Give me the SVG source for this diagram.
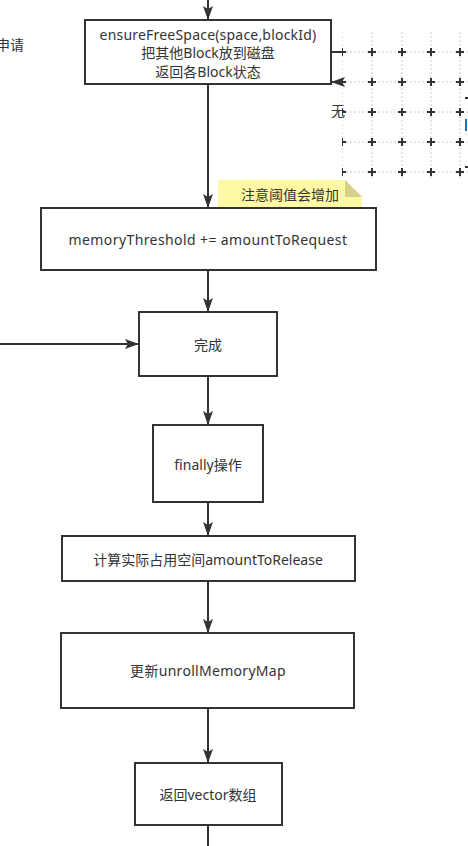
<svg xmlns="http://www.w3.org/2000/svg" width="468" height="846" viewBox="0 0 468 846">
<style>
.box{fill:#fff;stroke:#333;stroke-width:2}
.t{font-family:"Noto Sans","Noto Sans CJK SC",sans-serif;font-size:14px;fill:#333;text-anchor:middle;dominant-baseline:central}
.edge{fill:none;stroke:#333;stroke-width:2}
.grid{stroke:#ccc;stroke-width:1;stroke-dasharray:2 2}
.cross{stroke:#333;stroke-width:2}
</style>
<defs>
<marker id="ah" markerWidth="14" markerHeight="10" refX="13" refY="5" orient="auto" markerUnits="userSpaceOnUse">
<path d="M0,0 L14,5 L0,10 L3,5 z" fill="#333"/>
</marker>
<clipPath id="gc"><rect x="342" y="30" width="126" height="148"/></clipPath>
</defs>
<rect width="468" height="846" fill="#fff"/>
<text class="t" x="24" y="44" style="text-anchor:end">申请</text>
<text class="t" x="338" y="110">无</text>
<g id="connectors">
<line class="edge" x1="208" y1="0" x2="208" y2="19" marker-end="url(#ah)"/>
<line class="edge" x1="208" y1="84" x2="208" y2="207" marker-end="url(#ah)"/>
<line class="edge" x1="208" y1="270" x2="208" y2="311" marker-end="url(#ah)"/>
<line class="edge" x1="0" y1="344" x2="138" y2="344" marker-end="url(#ah)"/>
<line class="edge" x1="208" y1="376" x2="208" y2="424" marker-end="url(#ah)"/>
<line class="edge" x1="208" y1="502" x2="208" y2="535" marker-end="url(#ah)"/>
<line class="edge" x1="208" y1="581" x2="208" y2="632" marker-end="url(#ah)"/>
<line class="edge" x1="208" y1="708" x2="208" y2="762" marker-end="url(#ah)"/>
<line class="edge" x1="208" y1="825" x2="208" y2="846"/>
<line class="edge" x1="331" y1="52" x2="344" y2="52"/>
<line class="edge" x1="346" y1="82" x2="332" y2="82" marker-end="url(#ah)"/>
</g>
<g id="grid" clip-path="url(#gc)">
<g class="grid">
<line x1="342" y1="32" x2="342" y2="178"/><line x1="372" y1="32" x2="372" y2="178"/><line x1="402" y1="32" x2="402" y2="178"/><line x1="431" y1="32" x2="431" y2="178"/><line x1="460" y1="32" x2="460" y2="178"/>
<line x1="342" y1="52" x2="468" y2="52"/><line x1="342" y1="82" x2="468" y2="82"/><line x1="342" y1="112" x2="468" y2="112"/><line x1="342" y1="142" x2="468" y2="142"/><line x1="342" y1="172" x2="468" y2="172"/>
</g>
<g class="cross">
<path d="M338,52h8M342,48v8M368,52h8M372,48v8M398,52h8M402,48v8M427,52h8M431,48v8M456,52h8M460,48v8"/>
<path d="M338,82h8M342,78v8M368,82h8M372,78v8M398,82h8M402,78v8M427,82h8M431,78v8M456,82h8M460,78v8"/>
<path d="M338,112h8M342,108v8M368,112h8M372,108v8M398,112h8M402,108v8M427,112h8M431,108v8M456,112h8M460,108v8"/>
<path d="M338,142h8M342,138v8M368,142h8M372,138v8M398,142h8M402,138v8M427,142h8M431,138v8M456,142h8M460,138v8"/>
<path d="M338,172h8M342,168v8M368,172h8M372,168v8M398,172h8M402,168v8M427,172h8M431,168v8M456,172h8M460,168v8"/>
</g>
<path d="M465,98h3M465,167h3" stroke="#333" stroke-width="2"/>
<line x1="466" y1="119" x2="466" y2="131" stroke="#1e6fd0" stroke-width="2"/>
</g>
<g id="n1">
<rect class="box" x="85" y="20" width="246" height="64"/>
<text class="t" x="208" y="34" letter-spacing="0.2">ensureFreeSpace(space,blockId)</text>
<text class="t" x="208" y="52">把其他Block放到磁盘</text>
<text class="t" x="208" y="71">返回各Block状态</text>
</g>
<g id="note">
<path d="M218,180 H345 L362,197 V208 H218 z" fill="#fff9a6"/>
<path d="M345,180 L362,197 H345 z" fill="#d6d08a"/>
<text class="t" x="290" y="194">注意阈值会增加</text>
</g>
<g id="n2">
<rect class="box" x="41" y="208" width="335" height="62"/>
<text class="t" x="208" y="239" letter-spacing="0.4">memoryThreshold += amountToRequest</text>
</g>
<g id="n3">
<rect class="box" x="139" y="312" width="138" height="64"/>
<text class="t" x="208" y="344">完成</text>
</g>
<g id="n4">
<rect class="box" x="153" y="425" width="110" height="77"/>
<text class="t" x="208" y="464">finally操作</text>
</g>
<g id="n5">
<rect class="box" x="62" y="536" width="293" height="45"/>
<text class="t" x="208" y="559">计算实际占用空间amountToRelease</text>
</g>
<g id="n6">
<rect class="box" x="61" y="633" width="293" height="75"/>
<text class="t" x="208" y="670" letter-spacing="0.3">更新unrollMemoryMap</text>
</g>
<g id="n7">
<rect class="box" x="135" y="763" width="147" height="62"/>
<text class="t" x="208" y="794">返回vector数组</text>
</g>
</svg>
